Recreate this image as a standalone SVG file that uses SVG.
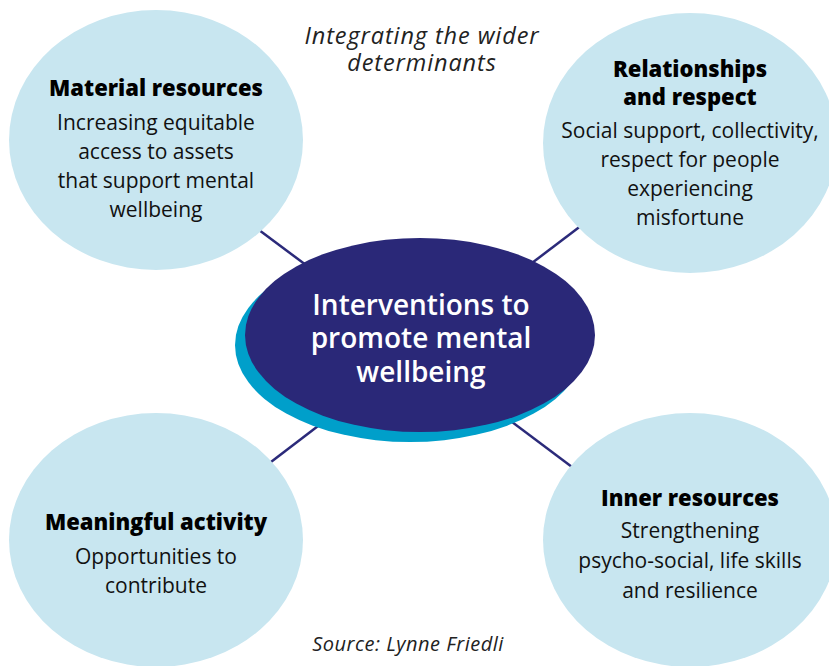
<svg xmlns="http://www.w3.org/2000/svg" width="829" height="666" viewBox="0 0 829 666">
<style>
.bub{fill:#c8e6f0}
.con{stroke:#2b2a7a;stroke-width:2.5;fill:none}
.hd{font-family:"Open Sans","Noto Sans",sans-serif;font-weight:800;font-size:22px;fill:#000;text-anchor:middle}
.bd{font-family:"Open Sans","Noto Sans",sans-serif;font-size:21px;fill:#111;text-anchor:middle}
.it{font-family:"Open Sans","Noto Sans",sans-serif;font-style:italic;font-size:23.5px;letter-spacing:0.9px;fill:#222;text-anchor:middle}
.src{font-family:"Open Sans","Noto Sans",sans-serif;font-style:italic;font-size:20px;letter-spacing:0.5px;fill:#222;text-anchor:middle}
.ct{font-family:"Open Sans","Noto Sans",sans-serif;font-weight:600;font-size:28px;fill:#fff;text-anchor:middle}
</style>
<rect width="829" height="666" fill="#fff"/>
<g id="connectors">
<line class="con" x1="255" y1="227" x2="310" y2="268"/>
<line class="con" x1="586" y1="222" x2="528" y2="266"/>
<line class="con" x1="267" y1="465" x2="322" y2="423"/>
<line class="con" x1="508" y1="419" x2="576" y2="470"/>
</g>
<g id="title">
<text class="it" x="422" y="44">Integrating the wider</text>
<text class="it" x="422" y="71">determinants</text>
</g>
<g id="material">
<ellipse class="bub" cx="156" cy="140" rx="147" ry="130"/>
<text class="hd" x="156" y="96">Material resources</text>
<text class="bd" x="156" y="130">Increasing equitable</text>
<text class="bd" x="156" y="159">access to assets</text>
<text class="bd" x="156" y="188">that support mental</text>
<text class="bd" x="156" y="217">wellbeing</text>
</g>
<g id="relationships">
<ellipse class="bub" cx="690" cy="143" rx="147" ry="130"/>
<text class="hd" x="690" y="77">Relationships</text>
<text class="hd" x="690" y="105">and respect</text>
<text class="bd" x="690" y="138">Social support, collectivity,</text>
<text class="bd" x="690" y="167">respect for people</text>
<text class="bd" x="690" y="196">experiencing</text>
<text class="bd" x="690" y="225">misfortune</text>
</g>
<g id="meaningful">
<ellipse class="bub" cx="156" cy="540" rx="147" ry="127"/>
<text class="hd" x="156" y="530">Meaningful activity</text>
<text class="bd" x="156" y="564">Opportunities to</text>
<text class="bd" x="156" y="593">contribute</text>
</g>
<g id="inner">
<ellipse class="bub" cx="690" cy="540" rx="147" ry="127"/>
<text class="hd" x="690" y="506">Inner resources</text>
<text class="bd" x="690" y="538">Strengthening</text>
<text class="bd" x="690" y="568">psycho-social, life skills</text>
<text class="bd" x="690" y="598">and resilience</text>
</g>
<g id="center">
<ellipse cx="410" cy="345" rx="175" ry="97" fill="#009fca"/>
<ellipse cx="420" cy="335" rx="175" ry="97" fill="#2a2878"/>
<text class="ct" x="421" y="315">Interventions to</text>
<text class="ct" x="421" y="348">promote mental</text>
<text class="ct" x="421" y="382">wellbeing</text>
</g>
<g id="source">
<text class="src" x="408" y="651">Source: Lynne Friedli</text>
</g>
</svg>
